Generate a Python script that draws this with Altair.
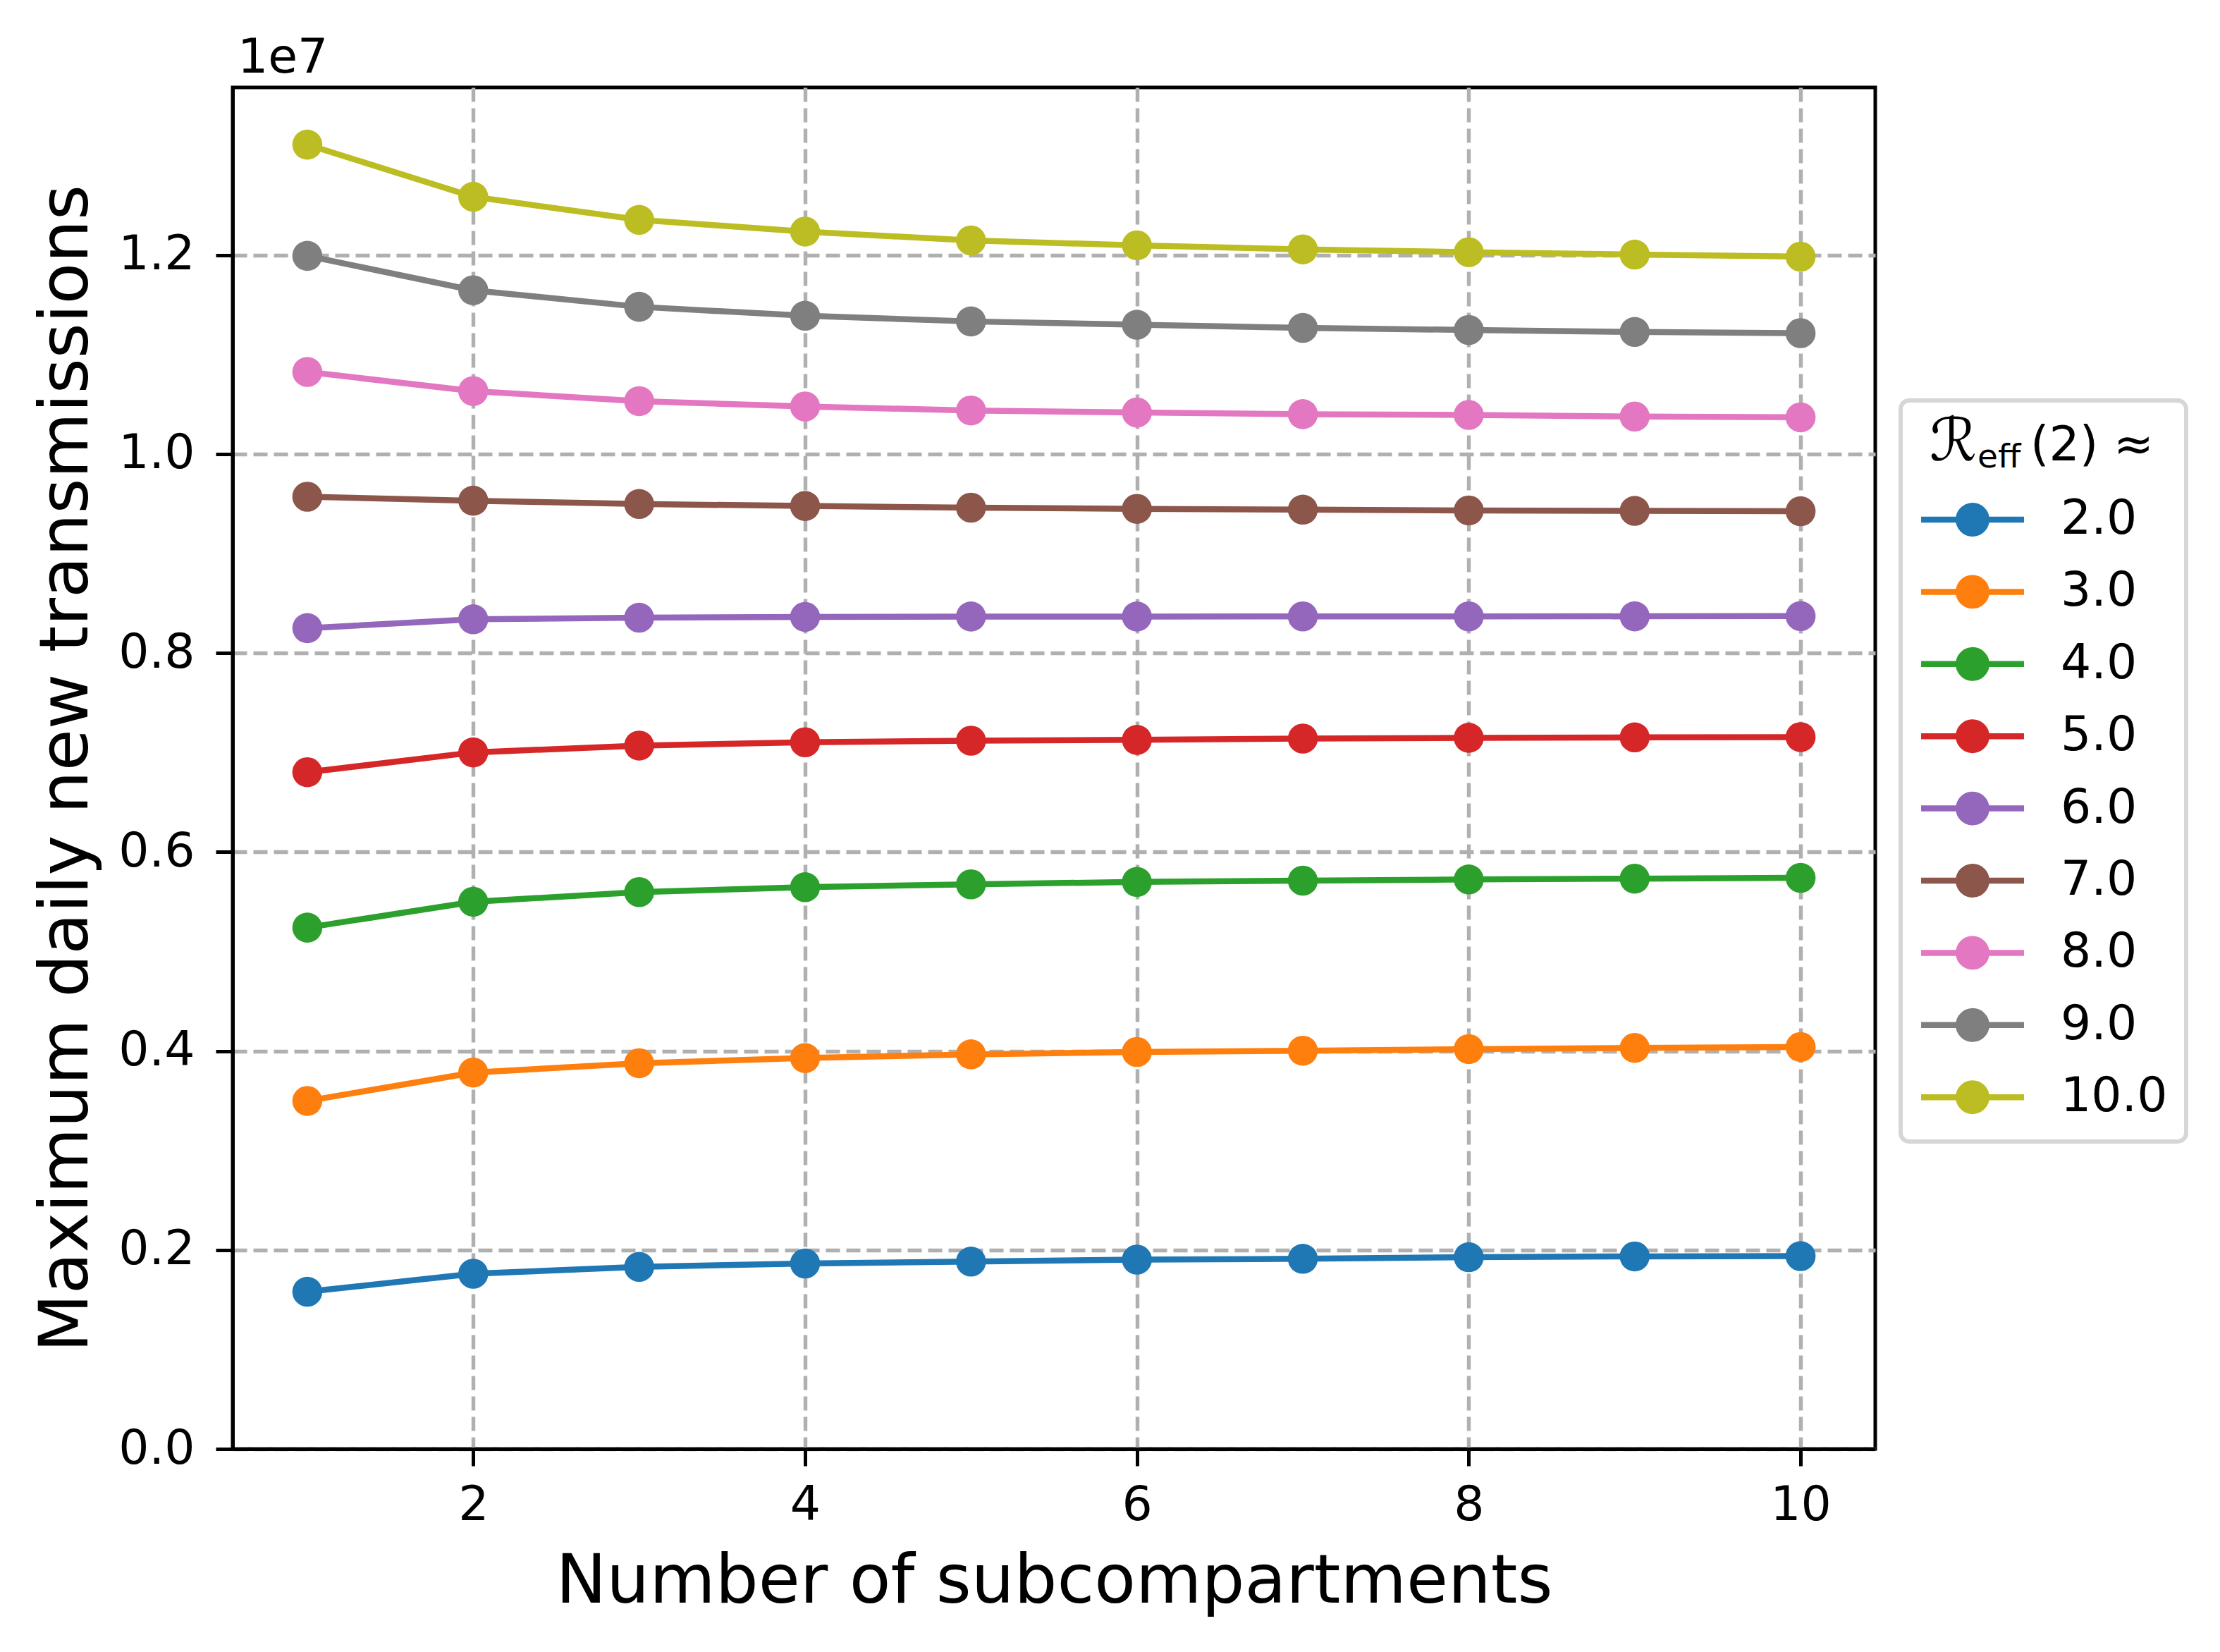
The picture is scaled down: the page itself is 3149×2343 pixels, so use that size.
import altair as alt
import pandas as pd

# ---------------- data ----------------
subcompartments = [1, 2, 3, 4, 5, 6, 7, 8, 9, 10]
r_labels = ["2.0", "3.0", "4.0", "5.0", "6.0", "7.0", "8.0", "9.0", "10.0"]
colors = ["#1f77b4", "#ff7f0e", "#2ca02c", "#d62728", "#9467bd",
          "#8c564b", "#e377c2", "#7f7f7f", "#bcbd22"]

r_2 = [1.580e6, 1.761e6, 1.830e6, 1.864e6, 1.883e6, 1.903e6, 1.911e6, 1.927e6, 1.935e6, 1.938e6]
r_3 = [3.498e6, 3.783e6, 3.877e6, 3.929e6, 3.966e6, 3.990e6, 4.003e6, 4.019e6, 4.031e6, 4.040e6]
r_4 = [5.240e6, 5.500e6, 5.597e6, 5.646e6, 5.675e6, 5.699e6, 5.712e6, 5.724e6, 5.732e6, 5.740e6]
r_5 = [6.802e6, 7.001e6, 7.070e6, 7.103e6, 7.119e6, 7.127e6, 7.140e6, 7.148e6, 7.152e6, 7.155e6]
r_6 = [8.250e6, 8.339e6, 8.355e6, 8.363e6, 8.367e6, 8.367e6, 8.368e6, 8.368e6, 8.369e6, 8.371e6]
r_7 = [9.571e6, 9.531e6, 9.498e6, 9.478e6, 9.461e6, 9.449e6, 9.441e6, 9.433e6, 9.429e6, 9.425e6]
r_8 = [10.825e6, 10.633e6, 10.532e6, 10.478e6, 10.438e6, 10.418e6, 10.401e6, 10.393e6, 10.377e6, 10.369e6]
r_9 = [11.992e6, 11.646e6, 11.480e6, 11.390e6, 11.333e6, 11.300e6, 11.268e6, 11.247e6, 11.227e6, 11.215e6]
r_10 = [13.110e6, 12.586e6, 12.354e6, 12.236e6, 12.147e6, 12.098e6, 12.057e6, 12.029e6, 12.005e6, 11.984e6]
series = [r_2, r_3, r_4, r_5, r_6, r_7, r_8, r_9, r_10]

x_ticks = [2, 4, 6, 8, 10]
y_ticks = [0, 2e6, 4e6, 6e6, 8e6, 10e6, 12e6]

x_title = "Number of subcompartments"
y_title = "Maximum daily new transmissions"
offset_text = "1e7"
legend_title_main = "\u211b"
legend_title_sub = "eff"
legend_title_rest = "(2) \u2248"

rows = []
for lab, vals in zip(r_labels, series):
    for n, v in zip(subcompartments, vals):
        rows.append({"n": n, "v": v, "r": lab})
df = pd.DataFrame(rows)

FONT = "DejaVu Sans"
W, H = 2330, 1931

# legend symbol: line with a filled circle in the middle
SYM = "M-3.04,0H3.04M0.82,0A0.82,0.82,0,1,1,-0.82,0A0.82,0.82,0,1,1,0.82,0Z"

color_scale = alt.Scale(domain=r_labels, range=colors)
legend = alt.Legend(
    orient="none", legendX=2366, legendY=444,
    title=" ", titleFontSize=82, titlePadding=27,
    labelFontSize=68, labelFont=FONT, labelColor="black",
    symbolType=SYM, symbolSize=2304, symbolStrokeWidth=8.5,
    symbolOffset=42, labelOffset=91, rowPadding=28.4,
    padding=26, strokeColor="#d6d6d6",
    cornerRadius=12,
)

x_enc = alt.X(
    "n:Q",
    scale=alt.Scale(domain=[0.55, 10.45], nice=False, zero=False),
    axis=alt.Axis(
        values=x_ticks, format="d", title=x_title,
        grid=True, gridDash=[20, 9], gridColor="#b0b0b0", gridWidth=5.4,
        tickSize=24, tickWidth=5, tickColor="black",
        domainColor="black", domainWidth=5,
        labelFontSize=68, labelFont=FONT, labelColor="black", labelPadding=22,
        labelFlush=False,
        titleFontSize=96, titleFont=FONT, titleColor="black", titleFontWeight="normal",
        titleBaseline="alphabetic", titleY=217,
    ),
)
y_enc = alt.Y(
    "v:Q",
    scale=alt.Scale(domain=[0, 13.685e6], nice=False),
    axis=alt.Axis(
        values=y_ticks, labelExpr="format(datum.value / 1e7, '.1f')", title=y_title,
        grid=True, gridDash=[20, 9], gridColor="#b0b0b0", gridWidth=5.4,
        tickSize=24, tickWidth=5, tickColor="black",
        domainColor="black", domainWidth=5,
        labelFontSize=68, labelFont=FONT, labelColor="black", labelPadding=30,
        labelFlush=False,
        titleFontSize=96, titleFont=FONT, titleColor="black", titleFontWeight="normal",
        titleAngle=270, titleBaseline="alphabetic", titleAlign="center",
        titleX=-207, titleY=965.5,
    ),
)

base = alt.Chart(df)
lines = base.mark_line(strokeWidth=8.5).encode(
    x=x_enc, y=y_enc,
    color=alt.Color("r:N", scale=color_scale, sort=r_labels, legend=legend),
)
points = base.mark_point(filled=True, size=1810, opacity=1, shape="circle").encode(
    x=x_enc, y=y_enc,
    color=alt.Color("r:N", scale=color_scale, sort=r_labels, legend=legend),
)

def label(text, x, y, size, align, style="normal"):
    return alt.Chart(pd.DataFrame({"t": [text]})).mark_text(
        font=FONT, fontSize=size, align=align, baseline="alphabetic", color="black",
        fontStyle=style,
    ).encode(text="t:N", x=alt.value(x), y=alt.value(y))

t_offset = label(offset_text, 7, -21, 68, "left")
t_main = label(legend_title_main, 2474, 529, 84, "right", "italic")
t_sub = label(legend_title_sub, 2475, 539, 47, "left")
t_rest = label(legend_title_rest, 2550, 529, 68, "left")

chart = alt.layer(lines, points, t_offset, t_main, t_sub, t_rest).properties(
    width=W, height=H,
    autosize=alt.AutoSizeParams(type="none"),
    padding={"left": 322, "top": 116, "right": 470, "bottom": 270},
    background="white",
).configure(font=FONT).configure_view(stroke="black", strokeWidth=5).configure_legend(
    strokeWidth=6
)

chart.save("out.html", embed_options={"renderer": "svg", "actions": False})
